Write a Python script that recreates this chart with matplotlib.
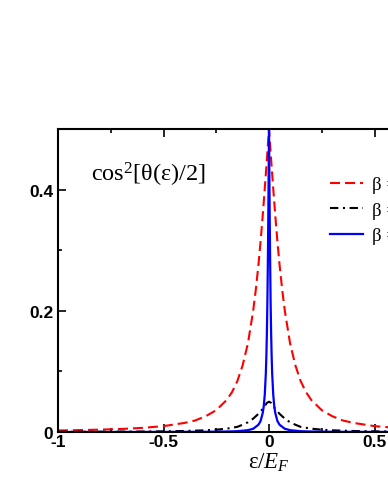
import matplotlib
matplotlib.use("Agg")
import matplotlib.pyplot as plt
from matplotlib.ticker import FixedLocator, FixedFormatter

plt.rcParams['axes.unicode_minus'] = False
plt.rcParams['mathtext.fontset'] = 'custom'
plt.rcParams['mathtext.rm'] = 'Liberation Serif'
plt.rcParams['mathtext.it'] = 'Liberation Serif:italic'
plt.rcParams['mathtext.default'] = 'rm'

# ---- data ----
red_x = [-1.0, -0.9, -0.8, -0.7, -0.6, -0.5, -0.4, -0.35, -0.3, -0.25, -0.2, -0.175, -0.15,
         -0.125, -0.1, -0.075, -0.0625, -0.05, -0.04, -0.03, -0.02, -0.01, -0.005, 0.0,
         0.005, 0.01, 0.02, 0.03, 0.04, 0.05, 0.0625, 0.075, 0.1, 0.125, 0.15, 0.175, 0.2,
         0.25, 0.3, 0.35, 0.4, 0.5, 0.6, 0.7, 0.8, 0.9, 1.0]
red_y = [0.0025, 0.0031, 0.0039, 0.0050, 0.0068, 0.0097, 0.015, 0.019, 0.026, 0.036, 0.053,
         0.066, 0.084, 0.110, 0.146, 0.200, 0.235, 0.276, 0.314, 0.356, 0.402, 0.450, 0.475,
         0.500,
         0.475, 0.450, 0.402, 0.356, 0.314, 0.276, 0.235, 0.200, 0.146, 0.110, 0.084, 0.066,
         0.053, 0.036, 0.026, 0.019, 0.015, 0.0097, 0.0068, 0.0050, 0.0039, 0.0031, 0.0025]

black_x = [-1.0, -0.8, -0.6, -0.5, -0.4, -0.3, -0.25, -0.2, -0.15, -0.125, -0.1, -0.075,
           -0.05, -0.04, -0.03, -0.02, -0.01, 0.0, 0.01, 0.02, 0.03, 0.04, 0.05, 0.075, 0.1,
           0.125, 0.15, 0.2, 0.25, 0.3, 0.4, 0.5, 0.6, 0.8, 1.0]
black_y = [0.0003, 0.0005, 0.0008, 0.0011, 0.0017, 0.0028, 0.0038, 0.0055, 0.0085, 0.012,
           0.016, 0.022, 0.030, 0.034, 0.038, 0.043, 0.048, 0.050, 0.048, 0.043, 0.038, 0.034,
           0.030, 0.022, 0.016, 0.012, 0.0085, 0.0055, 0.0038, 0.0028, 0.0017, 0.0011, 0.0008,
           0.0005, 0.0003]

blue_x = [-1.0, -0.5, -0.3, -0.2, -0.15, -0.1, -0.075, -0.05, -0.04, -0.03, -0.025, -0.02,
          -0.015, -0.0125, -0.01, -0.0075, -0.005, -0.003, -0.002, -0.001, 0.0, 0.001, 0.002,
          0.003, 0.005, 0.0075, 0.01, 0.0125, 0.015, 0.02, 0.025, 0.03, 0.04, 0.05, 0.075,
          0.1, 0.15, 0.2, 0.3, 0.5, 1.0]
blue_y = [0.0, 0.0001, 0.0003, 0.0008, 0.0013, 0.0030, 0.0053, 0.012, 0.018, 0.031, 0.042,
          0.062, 0.097, 0.125, 0.164, 0.218, 0.293, 0.368, 0.411, 0.455, 0.500, 0.455, 0.411,
          0.368, 0.293, 0.218, 0.164, 0.125, 0.097, 0.062, 0.042, 0.031, 0.018, 0.012, 0.0053,
          0.0030, 0.0013, 0.0008, 0.0003, 0.0001, 0.0]

series_labels = ["β = 0.1", "β = 1", "β = 10"]
x_major = [-1.0, -0.5, 0.0, 0.5, 1.0]
x_major_labels = ["-1", "-0.5", "0", "0.5", "1"]
x_minor = [-0.75, -0.25, 0.25, 0.75]
y_major = [0.0, 0.2, 0.4]
y_major_labels = ["0", "0.2", "0.4"]
y_minor = [0.1, 0.3]
annotation = "cos$^{2}$[θ(ε)/2]"
xlabel = r"ε/$\mathit{E}_{\mathit{F}}$"

# ---- figure ----
W, H = 388, 502
fig = plt.figure(figsize=(W / 100, H / 100), dpi=100)
ax = fig.add_axes([58 / W, 69 / H, 422 / W, 303 / H])

ax.plot(red_x, red_y, color='#ff0000', lw=1.5, dashes=(4.8, 2.4), label=series_labels[0])
ax.plot(black_x, black_y, color='black', lw=1.5, dashes=(4.0, 2.2, 1.0, 2.2), label=series_labels[1])
ax.plot(blue_x, blue_y, color='#0000ff', lw=1.6, label=series_labels[2])

ax.set_xlim(-1, 1)
ax.set_ylim(0, 0.5)

ax.xaxis.set_major_locator(FixedLocator(x_major))
ax.xaxis.set_major_formatter(FixedFormatter(x_major_labels))
ax.xaxis.set_minor_locator(FixedLocator(x_minor))
ax.yaxis.set_major_locator(FixedLocator(y_major))
ax.yaxis.set_major_formatter(FixedFormatter(y_major_labels))
ax.yaxis.set_minor_locator(FixedLocator(y_minor))

ax.tick_params(which='both', direction='in', top=True, right=True, width=1.2)
ax.tick_params(which='major', length=5.5)
ax.tick_params(which='minor', length=2.8)
ax.tick_params(axis='x', which='major', pad=1.5)
ax.tick_params(axis='y', which='major', pad=3.5)
for lab in ax.get_xticklabels() + ax.get_yticklabels():
    lab.set_fontfamily('Liberation Sans')
    lab.set_fontweight('bold')
    lab.set_fontsize(12.5)

for sp in ax.spines.values():
    sp.set_linewidth(1.5)

ax.set_xlabel(xlabel, family='Liberation Serif', fontsize=16.5, labelpad=1)

fig.text(91 / W, 1 - 182 / H, annotation, family='Liberation Serif', fontsize=17.5,
         ha='left', va='baseline')

leg = ax.legend(loc='upper left', bbox_to_anchor=(330 / W, 1 - 177 / H),
                bbox_transform=fig.transFigure, frameon=False,
                prop={'family': 'Liberation Serif', 'size': 13.5},
                handlelength=1.75, handletextpad=0.5, labelspacing=0.45,
                borderpad=0, borderaxespad=0)

fig.savefig('out.png', dpi=100)
